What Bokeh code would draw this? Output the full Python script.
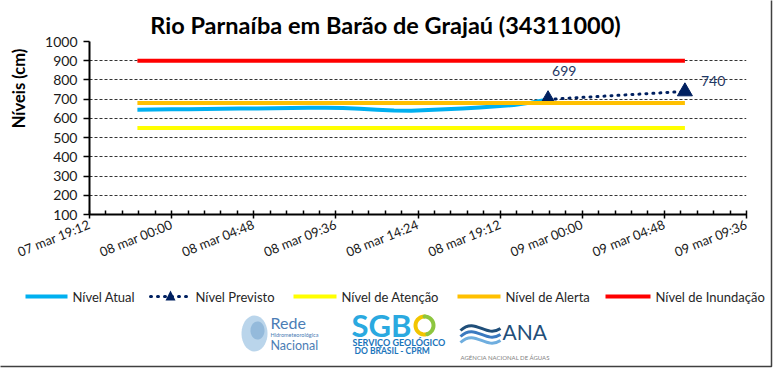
import math
import numpy as np
import pandas as pd
from bokeh.plotting import figure
from bokeh.models import ColumnDataSource, FixedTicker, Range1d, DatetimeTickFormatter
from bokeh.core.properties import value
from bokeh.embed import file_html
from bokeh.resources import INLINE

# ---------------- data ----------------
title_text = "Rio Parnaíba em Barão de Grajaú (34311000)"
y_title = "Níveis (cm)"

obs_times = ["2024-03-07 22:00", "2024-03-07 23:00",
             "2024-03-08 00:00", "2024-03-08 01:00", "2024-03-08 02:00", "2024-03-08 03:00",
             "2024-03-08 04:00", "2024-03-08 05:00", "2024-03-08 06:00", "2024-03-08 07:00",
             "2024-03-08 08:00", "2024-03-08 09:00", "2024-03-08 10:00", "2024-03-08 11:00",
             "2024-03-08 12:00", "2024-03-08 13:00", "2024-03-08 14:00", "2024-03-08 15:00",
             "2024-03-08 16:00", "2024-03-08 17:00", "2024-03-08 18:00", "2024-03-08 19:00",
             "2024-03-08 20:00", "2024-03-08 21:00", "2024-03-08 22:00"]
obs_levels = [645, 646, 647, 648, 649, 650, 651, 652, 653, 654, 655, 655, 654, 650,
              645, 641, 640, 643, 647, 652, 657, 663, 670, 682, 699]

fc_times = ["2024-03-08 22:00", "2024-03-09 06:00"]
fc_levels = [699, 740]

limit_times = ["2024-03-07 22:00", "2024-03-09 06:00"]
nivel_atencao = [550, 550]
nivel_alerta = [680, 680]
nivel_inundacao = [900, 900]

tick_times = ["2024-03-07 19:12", "2024-03-08 00:00", "2024-03-08 04:48", "2024-03-08 09:36",
              "2024-03-08 14:24", "2024-03-08 19:12", "2024-03-09 00:00", "2024-03-09 04:48",
              "2024-03-09 09:36"]
tick_labels = ["07 mar 19:12", "08 mar 00:00", "08 mar 04:48", "08 mar 09:36", "08 mar 14:24",
               "08 mar 19:12", "09 mar 00:00", "09 mar 04:48", "09 mar 09:36"]
y_ticks = [100, 200, 300, 400, 500, 600, 700, 800, 900, 1000]

legend_labels = ["Nível Atual", "Nível Previsto", "Nível de Atenção", "Nível de Alerta",
                 "Nível de Inundação"]


def ms(t):
    return pd.Timestamp(t).timestamp() * 1000.0


FONT = "Lato"
C_ATUAL = "#00B0F0"
C_PREV = "#002060"
C_ATEN = "#FFFF00"
C_ALER = "#FFC000"
C_INUN = "#FF0000"

# frame placement (page pixels)
F_LEFT, F_RIGHT, F_TOP, F_BOTTOM = 89, 746, 41, 214
W, H = 774, 368

major = [ms(t) for t in tick_times]
minor = []
for a, b in zip(major[:-1], major[1:]):
    minor.extend(list(np.linspace(a, b, 6)[1:-1]))

p = figure(width=W, height=H, output_backend="svg", toolbar_location=None,
           x_axis_type="datetime",
           x_range=Range1d(major[0], major[-1]), y_range=Range1d(y_ticks[0], y_ticks[-1]),
           min_border_left=F_LEFT, min_border_right=W - F_RIGHT,
           min_border_top=F_TOP, min_border_bottom=H - F_BOTTOM)
p.outline_line_color = None
p.background_fill_color = "white"
p.border_fill_color = "white"

# axes
xa = p.xaxis[0]
xa.ticker = FixedTicker(ticks=major, minor_ticks=minor)
xa.formatter = DatetimeTickFormatter(
    milliseconds="%d mar %H:%M", seconds="%d mar %H:%M", minsec="%d mar %H:%M",
    minutes="%d mar %H:%M", hourmin="%d mar %H:%M", hours="%d mar %H:%M",
    days="%d mar %H:%M", months="%d mar %H:%M", years="%d mar %H:%M")
xa.major_label_overrides = {m: lab for m, lab in zip(major, tick_labels)}
xa.major_label_orientation = math.radians(22)
xa.major_label_text_font = FONT
xa.major_label_text_font_size = "13px"
xa.major_label_text_color = "#1a1a1a"
xa.major_label_standoff = 5
xa.axis_line_width = 2
xa.axis_line_color = "black"
xa.major_tick_in = 4
xa.major_tick_out = 4
xa.minor_tick_in = 4
xa.minor_tick_out = 0
xa.major_tick_line_color = "black"
xa.minor_tick_line_color = "black"
xa.major_tick_line_width = 1.5
xa.minor_tick_line_width = 1.5

ya = p.yaxis[0]
ya.ticker = FixedTicker(ticks=y_ticks)
ya.major_label_text_font = FONT
ya.major_label_text_font_size = "14px"
ya.major_label_text_color = "#1a1a1a"
ya.axis_line_width = 2
ya.axis_line_color = "black"
ya.major_tick_in = 0
ya.major_tick_out = 6
ya.minor_tick_line_color = None
ya.major_tick_line_color = "black"
ya.major_tick_line_width = 1.5
ya.major_label_standoff = 6

p.xgrid.grid_line_color = None
p.ygrid.grid_line_color = "#333333"
p.ygrid.grid_line_dash = "3 2"
p.ygrid.grid_line_width = 1

# series
obs_src = ColumnDataSource(dict(t=pd.to_datetime(obs_times), v=obs_levels))
fc_src = ColumnDataSource(dict(t=pd.to_datetime(fc_times), v=fc_levels))
lim_t = pd.to_datetime(limit_times)

PREV_DASH = "1 6"
p.line("t", "v", source=obs_src, line_color=C_ATUAL, line_width=4, line_join="round")
p.line("t", "v", source=fc_src, line_color=C_PREV, line_width=3, line_dash=PREV_DASH,
       line_cap="round")
p.scatter("t", "v", source=fc_src, marker="triangle", size=15, fill_color=C_PREV,
          line_color=C_PREV)
p.line(lim_t, nivel_atencao, line_color=C_ATEN, line_width=4)
p.line(lim_t, nivel_alerta, line_color=C_ALER, line_width=4)
p.line(lim_t, nivel_inundacao, line_color=C_INUN, line_width=4)

# value labels on forecast
p.text(x=[pd.Timestamp(fc_times[0])], y=[fc_levels[0]], text=[str(fc_levels[0])],
       x_offset=4, y_offset=-28, text_align="left", text_baseline="middle",
       text_font=value(FONT), text_font_size="14px", text_color="#1F3864")
p.text(x=[pd.Timestamp(fc_times[1])], y=[fc_levels[1]], text=[str(fc_levels[1])],
       x_offset=16, y_offset=-10, text_align="left", text_baseline="middle",
       text_font=value(FONT), text_font_size="14px", text_color="#1F3864")

# ---- helpers for things outside the frame (drawn at overlay level, not clipped) ----
x_anchor = pd.Timestamp(tick_times[0])
y_anchor = y_ticks[-1]
SX = (major[-1] - major[0]) / (F_RIGHT - F_LEFT)
SY = (y_ticks[-1] - y_ticks[0]) / (F_BOTTOM - F_TOP)


def px_x(X):
    return major[0] + (X - F_LEFT) * SX


def px_y(Y):
    return y_ticks[-1] - (Y - F_TOP) * SY


def ann(text, X, Y, size, color="black", style="normal", align="left", angle=0.0):
    p.text(x=[x_anchor], y=[y_anchor], text=[text], x_offset=X - F_LEFT, y_offset=Y - F_TOP,
           angle=angle, text_font=value(FONT), text_font_size=size, text_color=color,
           text_font_style=style, text_align=align, text_baseline="middle", level="overlay")


def shape(xs, ys, color, alpha=1.0):
    p.patch([px_x(v) for v in xs], [px_y(v) for v in ys], fill_color=color, fill_alpha=alpha,
            line_color=None, level="overlay")


def curve(xs, ys, color, width, cap="round"):
    p.line([px_x(v) for v in xs], [px_y(v) for v in ys], line_color=color, line_width=width,
           line_cap=cap, level="overlay")


ann(title_text, 385, 24, "23.5px", "black", "bold", "center")
ann(y_title, 18, 88, "16.5px", "black", "bold", "center", math.pi / 2)

# ---- legend row ----
LEG_Y = 296
swatches = [(25, 67, C_ATUAL, None), (150, 190, C_PREV, PREV_DASH), (293, 336, C_ATEN, None),
            (457, 500, C_ALER, None), (605, 650, C_INUN, None)]
for (xa0, xa1, col, dash), lab in zip(swatches, legend_labels):
    if dash is None:
        p.line([px_x(xa0), px_x(xa1)], [px_y(LEG_Y), px_y(LEG_Y)], line_color=col,
               line_width=4, level="overlay")
    else:
        p.line([px_x(xa0), px_x(xa1)], [px_y(LEG_Y), px_y(LEG_Y)], line_color=col,
               line_width=3, line_dash=dash, line_cap="round", level="overlay")
        xm = (xa0 + xa1) / 2
        shape([xm - 5, xm + 5, xm], [LEG_Y + 4, LEG_Y + 4, LEG_Y - 6], col)
    ann(lab, xa1 + 5, LEG_Y, "13px", "#262626")

# ---- logos (approximated) ----
ang = np.linspace(0, 2 * np.pi, 40)
shape(254 + 13 * np.cos(ang), 333 + 18 * np.sin(ang), "#A9CBE6", 0.8)
shape(257 + 7 * np.cos(ang), 330 + 9 * np.sin(ang), "#6E9FCC", 0.5)
ann("Rede", 270, 322, "16px", "#4B7DB5")
ann("Hidrometeorológica", 270, 334, "5.5px", "#4B7DB5")
ann("Nacional", 270, 345, "12.5px", "#4B7DB5")
ann("SGB", 351, 324, "31px", "#2AA9E0", "bold")
a1 = np.linspace(0.5 * np.pi, 1.6 * np.pi, 20)
a2 = np.linspace(-0.4 * np.pi, 0.5 * np.pi, 20)
curve(424 + 9 * np.cos(a1), 325 - 9 * np.sin(a1), "#F2C500", 4)
curve(424 + 9 * np.cos(a2), 325 - 9 * np.sin(a2), "#8DC63F", 4)
ann("SERVIÇO GEOLÓGICO", 352, 342, "9px", "#1B75BB", "bold")
ann("DO BRASIL - CPRM", 354, 350, "8.5px", "#1B75BB", "bold")
for (y0, col) in [(330, "#1F4E79"), (336, "#3A79C0"), (342, "#6FAEDF")]:
    p.bezier(x0=[px_x(460)], y0=[px_y(y0)], x1=[px_x(500)], y1=[px_y(y0 - 2)],
             cx0=[px_x(475)], cy0=[px_y(y0 - 14)], cx1=[px_x(485)], cy1=[px_y(y0 + 8)],
             line_color=col, line_width=3, level="overlay")
ann("ANA", 502, 331, "21px", "#1F4E79")
ann("AGÊNCIA NACIONAL DE ÁGUAS", 460, 357, "6px", "#7F7F7F")

# chart border (right and bottom edges as in the picture)
curve([771, 771, 0], [0, 366, 366], "#404040", 1.5, "butt")

open("out.html", "w").write(file_html(p, INLINE))
